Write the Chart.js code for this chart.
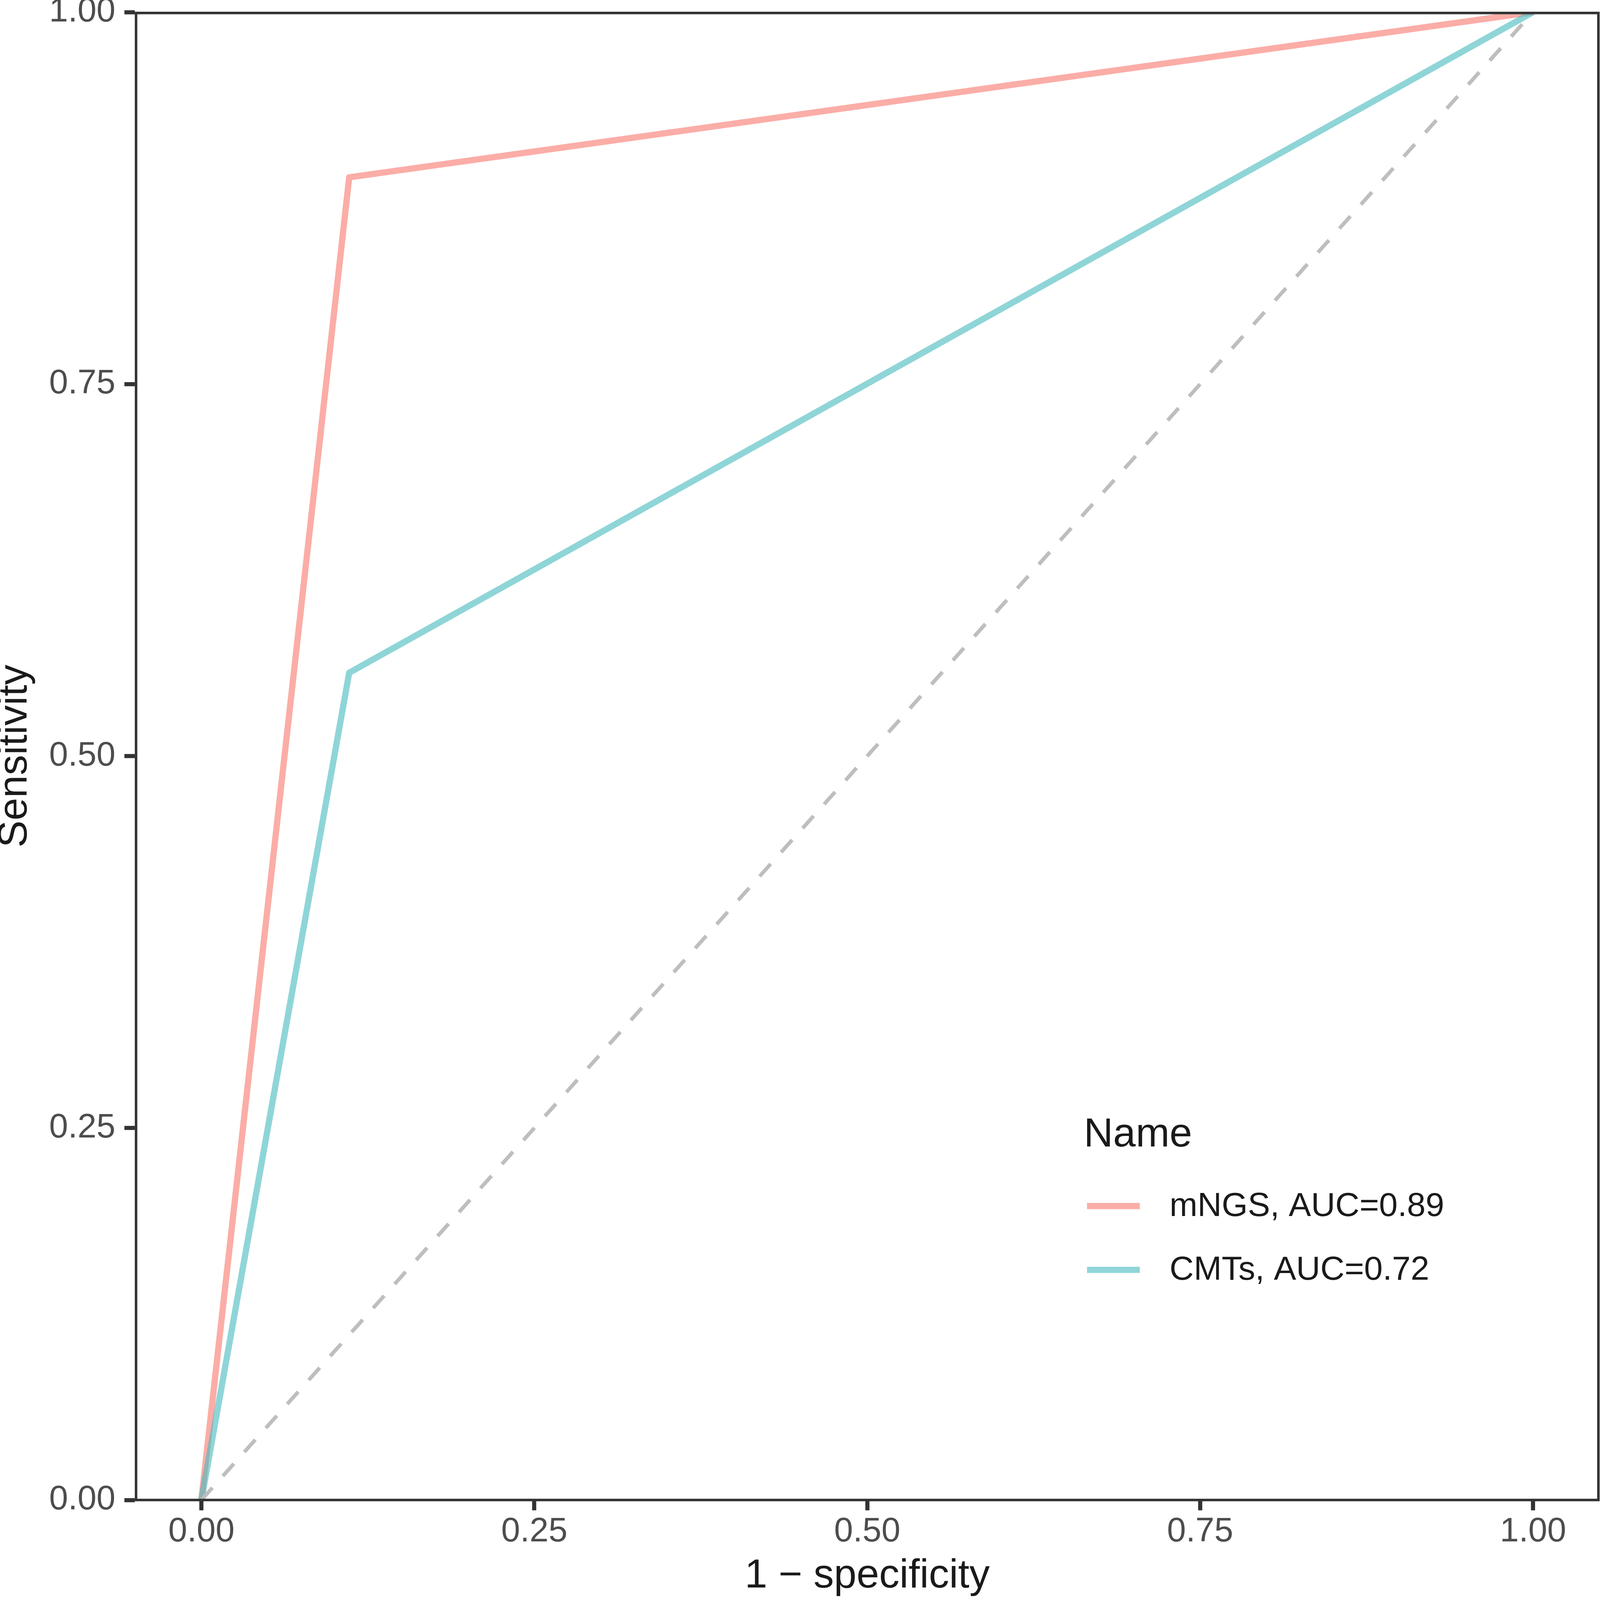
<!DOCTYPE html>
<html>
<head>
<meta charset="utf-8">
<script src="https://cdn.jsdelivr.net/npm/chart.js@4/dist/chart.umd.min.js"></script>
<style>
  html, body { margin: 0; padding: 0; background: #ffffff; overflow: hidden; }
  canvas { display: block; }
</style>
</head>
<body>
<canvas id="rocChart"></canvas>
<script>
// ROC curves: 1 - specificity vs sensitivity
const fprValues = [0, 0.111, 1];
const mngsSensitivity = [0, 0.889, 1];
const cmtsSensitivity = [0, 0.556, 1];
const chanceX = [0, 1];
const chanceY = [0, 1];

const seriesNames = ['mNGS, AUC=0.89', 'CMTs, AUC=0.72'];
const legendTitle = 'Name';

const xTicks = [0, 0.25, 0.5, 0.75, 1];
const xTickLabels = ['0.00', '0.25', '0.50', '0.75', '1.00'];
const yTicks = [0, 0.25, 0.5, 0.75, 1];
const yTickLabels = ['0.00', '0.25', '0.50', '0.75', '1.00'];

const FONT = '"Liberation Sans", Arial, Helvetica, sans-serif';
const TEXT_DARK = '#1A1A1A';
const TEXT_GREY = '#4D4D4D';
const AXIS_COL = '#333333';

// sizes below are in pixels of the 4457 x 4488 picture, mapped to the window
const W = window.innerWidth || 4457;
const H = window.innerHeight || 4488;
const kx = W / 4457;
const ky = H / 4488;
const sx = (v) => v * kx;
const sy = (v) => v * ky;
const sw = (v) => v * (kx + ky) / 2;

function toPoints(xs, ys) {
    return xs.map((x, i) => ({ x: x, y: ys[i] }));
}

// panel border drawn over the data, like the ggplot original
const panelBorder = {
    id: 'panelBorder',
    afterDatasetsDraw: function (chart) {
        const { ctx, chartArea: a } = chart;
        ctx.save();
        ctx.strokeStyle = AXIS_COL;
        ctx.lineWidth = sw(7);
        ctx.beginPath();
        ctx.moveTo(a.left + sx(3.5), a.bottom);
        ctx.lineTo(a.left + sx(3.5), a.top + sy(2.5));
        ctx.lineTo(a.right - sx(3.5), a.top + sy(2.5));
        ctx.lineTo(a.right - sx(3.5), a.bottom);
        ctx.closePath();
        ctx.stroke();
        ctx.restore();
    },
};

// legend inside the panel, bottom right
const insideLegend = {
    id: 'insideLegend',
    afterDraw: function (chart) {
        const ctx = chart.ctx;
        ctx.save();
        ctx.fillStyle = TEXT_DARK;
        ctx.textAlign = 'left';
        ctx.textBaseline = 'alphabetic';
        ctx.font = sy(114) + 'px ' + FONT;
        ctx.fillText(legendTitle, sx(3019), sy(3216));

        const rows = [3383, 3562];
        const ds = chart.data.datasets.filter((d) => d.inLegend);
        ds.forEach((d, i) => {
            const y = sy(rows[i]);
            ctx.strokeStyle = d.borderColor;
            ctx.lineWidth = sy(17.5);
            ctx.lineCap = 'butt';
            ctx.beginPath();
            ctx.moveTo(sx(3028), y);
            ctx.lineTo(sx(3175), y);
            ctx.stroke();

            ctx.fillStyle = TEXT_DARK;
            ctx.font = sy(94) + 'px ' + FONT;
            ctx.textBaseline = 'middle';
            ctx.fillText(d.label, sx(3258), y + sy(2));
        });
        ctx.restore();
    },
};

const canvas = document.getElementById('rocChart');
canvas.width = W;
canvas.height = H;
canvas.style.width = W + 'px';
canvas.style.height = H + 'px';

new Chart(canvas.getContext('2d'), {
    type: 'scatter',
    data: {
        datasets: [
            {
                label: seriesNames[0],
                inLegend: true,
                data: toPoints(fprValues, mngsSensitivity),
                showLine: true,
                borderColor: 'rgba(248, 118, 109, 0.6)',
                borderWidth: sw(17.5),
                borderJoinStyle: 'round',
                pointRadius: 0,
                order: 2,
            },
            {
                label: seriesNames[1],
                inLegend: true,
                data: toPoints(fprValues, cmtsSensitivity),
                showLine: true,
                borderColor: 'rgba(68, 185, 188, 0.6)',
                borderWidth: sw(17.5),
                borderJoinStyle: 'round',
                pointRadius: 0,
                order: 1,
            },
            {
                label: 'chance',
                inLegend: false,
                data: toPoints(chanceX, chanceY),
                showLine: true,
                borderColor: '#BEBEBE',
                borderWidth: sw(10.5),
                borderDash: [sw(46), sw(44)],
                borderCapStyle: 'butt',
                pointRadius: 0,
                order: 0,
            },
        ],
    },
    options: {
        responsive: false,
        animation: false,
        events: [],
        layout: { padding: { top: sy(34), right: sx(1), left: 0, bottom: 0 } },
        plugins: {
            legend: { display: false },
            tooltip: { enabled: false },
        },
        scales: {
            x: {
                type: 'linear',
                min: -0.05,
                max: 1.05,
                afterBuildTicks: function (scale) {
                    scale.ticks = xTicks.map((v) => ({ value: v }));
                },
                afterFit: function (scale) {
                    scale.height = sy(280.5);
                },
                ticks: {
                    callback: function (value, index) {
                        return xTickLabels[index];
                    },
                    color: TEXT_GREY,
                    font: { family: FONT, size: sy(95.5), lineHeight: 1 },
                    padding: sy(13),
                    maxRotation: 0,
                    autoSkip: false,
                },
                grid: {
                    display: true,
                    drawOnChartArea: false,
                    drawTicks: true,
                    tickLength: sy(29),
                    tickWidth: sx(11.5),
                    tickColor: AXIS_COL,
                },
                border: { display: false },
                title: {
                    display: true,
                    text: '1 \u2212 specificity',
                    color: TEXT_DARK,
                    font: { family: FONT, size: sy(114), lineHeight: 1 },
                    padding: { top: 0, bottom: sy(10) },
                },
            },
            y: {
                type: 'linear',
                min: 0,
                max: 1,
                afterBuildTicks: function (scale) {
                    scale.ticks = yTicks.map((v) => ({ value: v }));
                },
                afterFit: function (scale) {
                    scale.width = sx(375.5);
                    scale.paddingTop = 0;
                    scale.paddingBottom = 0;
                },
                ticks: {
                    callback: function (value, index) {
                        return yTickLabels[index];
                    },
                    color: TEXT_GREY,
                    font: { family: FONT, size: sy(95.5), lineHeight: 0.6 },
                    padding: sx(25),
                    autoSkip: false,
                },
                grid: {
                    display: true,
                    drawOnChartArea: false,
                    drawTicks: true,
                    tickLength: sx(29),
                    tickWidth: sy(11.5),
                    tickColor: AXIS_COL,
                },
                border: { display: false },
                title: {
                    display: true,
                    text: 'Sensitivity',
                    color: TEXT_DARK,
                    font: { family: FONT, size: sy(114), lineHeight: 2 * sx(43) / sy(114) },
                    padding: { top: 0, bottom: 0 },
                },
            },
        },
    },
    plugins: [panelBorder, insideLegend],
});
</script>
</body>
</html>
